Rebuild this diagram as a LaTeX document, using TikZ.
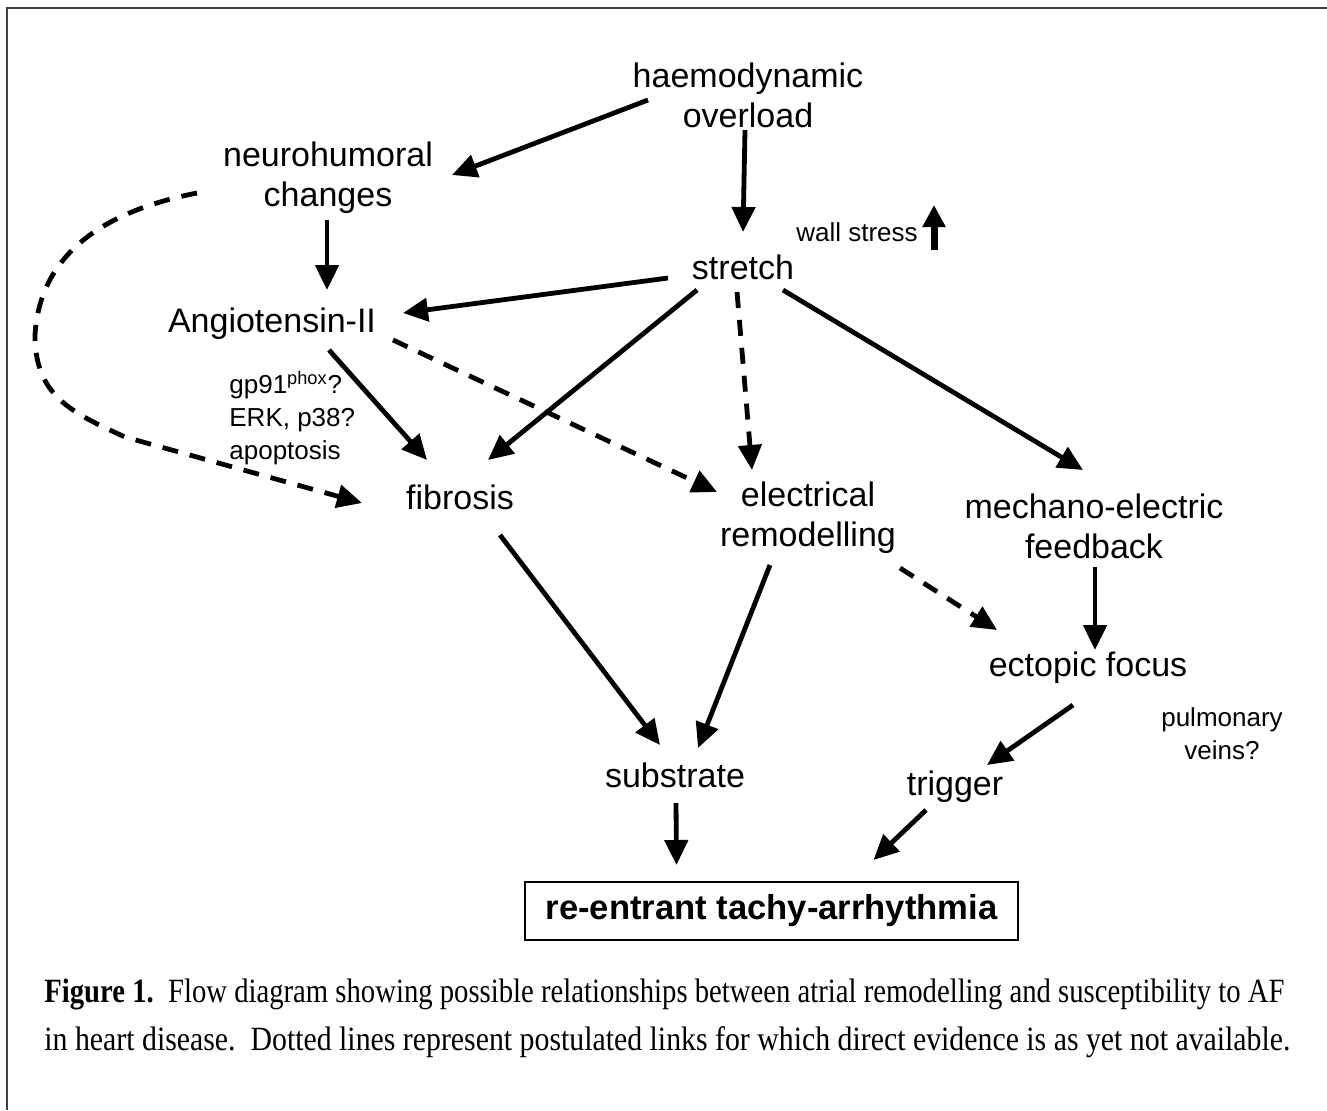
\documentclass[tikz,border=0pt]{standalone}
\usepackage{fontspec}
\usepackage{graphicx}
\setmainfont{Liberation Sans}
\newfontfamily\capfont{Liberation Serif}
\usetikzlibrary{arrows.meta}
\begin{document}
\begin{tikzpicture}[x=0.5pt,y=-0.5pt,
  lbl/.style={font=\fontsize{17}{20}\selectfont, align=center, inner sep=0pt},
  sml/.style={font=\fontsize{13}{16.5}\selectfont, align=center, inner sep=0pt},
  arr/.style={line width=2.4pt, -{Triangle[length=12.5pt,width=11.5pt]}},
  darr/.style={arr, dash pattern=on 8pt off 6pt}]
\useasboundingbox (0,0) rectangle (1327,1110);
\draw[line width=1pt, black!75] (7,1110) -- (7,8) -- (1327,8);

\node[lbl] (haem) at (748,95) {haemodynamic\\overload};
\node[lbl] (neuro) at (328,178) {neurohumoral\\changes};
\node[lbl] (ang) at (272,324) {Angiotensin-II};
\node[lbl] (str) at (743,267) {stretch};
\node[sml] (ws) at (857,232) {wall stress};
\node[sml, align=left, anchor=west] (gp) at (229,418) {gp91\textsuperscript{phox}?\\ERK, p38?\\apoptosis};
\node[lbl] (fib) at (460,497) {fibrosis};
\node[lbl] (elec) at (808,518) {electrical\\remodelling};
\node[lbl] (mech) at (1094,526) {mechano-electric\\feedback};
\node[lbl] (ect) at (1088,668) {ectopic focus};
\node[sml] (pv) at (1222,734) {pulmonary\\veins?};
\node[lbl] (sub) at (675,775) {substrate};
\node[lbl] (trig) at (955,787) {trigger};
\node[draw, line width=1pt, minimum width=246.5pt, minimum height=29pt, inner sep=0pt,
      font=\bfseries\fontsize{17.3}{20}\selectfont] (re) at (771.5,911) {re-entrant tachy-arrhythmia};

\node[anchor=base west, inner sep=0pt, font=\capfont\fontsize{17}{20}\selectfont] (cap1) at (44,1002)
  {\resizebox{620pt}{\height}{\textbf{Figure 1.}\ \ Flow diagram showing possible relationships between atrial remodelling and susceptibility to AF}};
\node[anchor=base west, inner sep=0pt, font=\capfont\fontsize{17}{20}\selectfont] (cap2) at (44,1050)
  {\resizebox{623pt}{\height}{in heart disease.\ \ Dotted lines represent postulated links for which direct evidence is as yet not available.}};

% wall stress arrow
\draw[line width=3.5pt, -{Triangle[length=11pt,width=11pt]}] ([shift={(77,18)}]ws.center) -- ([shift={(77,-27)}]ws.center);

% solid arrows
\draw[arr] ([shift={(-100,5)}]haem.center) -- ([shift={(124,-3)}]neuro.center);
\draw[arr] ([shift={(-3,35)}]haem.center) -- ([shift={(0,-35)}]str.center);
\draw[arr] ([shift={(-1,42)}]neuro.center) -- ([shift={(55,-34)}]ang.center);
\draw[arr] ([shift={(-75,11)}]str.center) -- ([shift={(131,-11)}]ang.center);
\draw[arr] ([shift={(-46,23)}]str.center) -- ([shift={(28,-37)}]fib.center);
\draw[arr] ([shift={(40,23)}]str.center) -- ([shift={(-11,-56)}]mech.center);
\draw[arr] ([shift={(57,26)}]ang.center) -- ([shift={(-33,-37)}]fib.center);
\draw[arr] ([shift={(40,38)}]fib.center) -- ([shift={(-15,-30)}]sub.center);
\draw[arr] ([shift={(-38,47)}]elec.center) -- ([shift={(23,-27)}]sub.center);
\draw[arr] ([shift={(1,41)}]mech.center) -- ([shift={(7,-18)}]ect.center);
\draw[arr] ([shift={(-15,37)}]ect.center) -- ([shift={(32,-22)}]trig.center);
\draw[arr] ([shift={(-29,23)}]trig.center) -- ([shift={(102,-51)}]re.center);
\draw[arr] ([shift={(1,28)}]sub.center) -- ([shift={(-95,-46)}]re.center);

% dashed arrows
\draw[darr] ([shift={(-6,25)}]str.center) -- ([shift={(-56,-48)}]elec.center);
\draw[darr] ([shift={(121,16)}]ang.center) -- ([shift={(-91,-26)}]elec.center);
\draw[darr] ([shift={(92,50)}]elec.center) -- ([shift={(-91,-38)}]ect.center);
\draw[darr] ([shift={(-131,15)}]neuro.center) .. controls (110,210) and (40,250) .. (35,335)
   .. controls (35,395) and (70,412) .. (125,437) -- ([shift={(-98,6)}]fib.center);
\end{tikzpicture}
\end{document}
